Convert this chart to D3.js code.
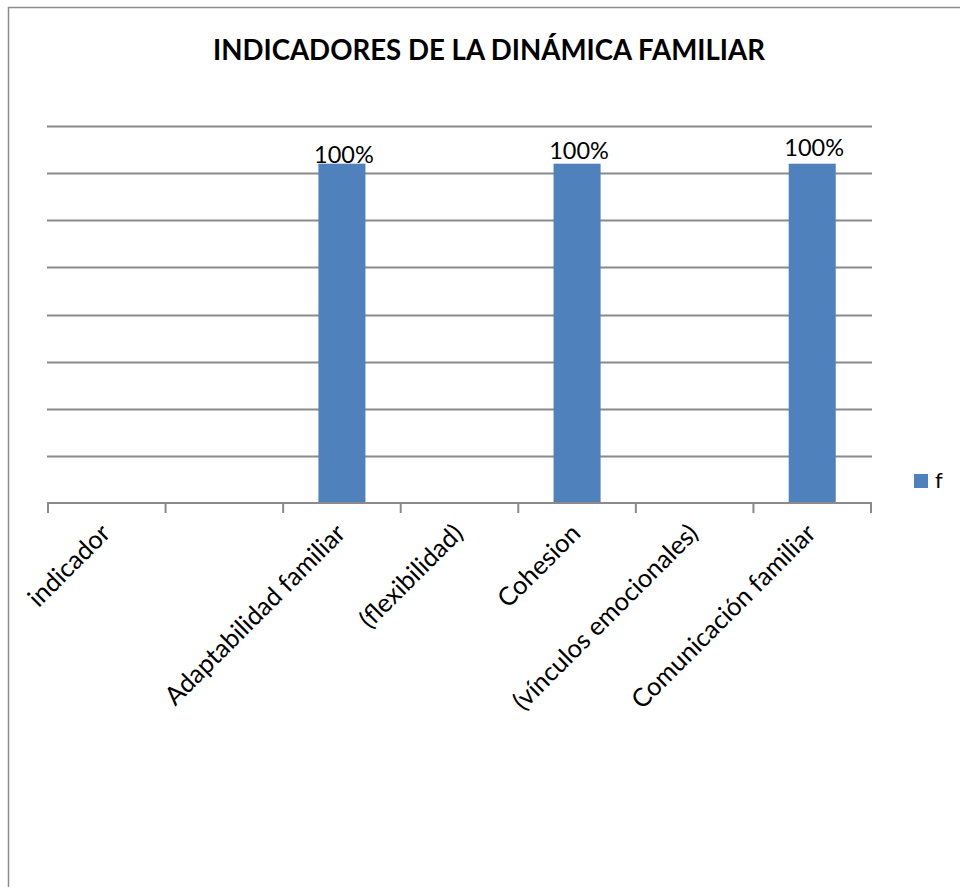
<!DOCTYPE html>
<html>
<head>
<meta charset="utf-8">
<script src="https://cdn.jsdelivr.net/npm/d3@7"></script>
<style>
  body { margin: 0; background: #fff; }
  svg { display: block; font-family: Lato, "Open Sans", sans-serif; }
</style>
</head>
<body>
<svg id="chart"></svg>
<script>
const categories = ["indicador", "", "Adaptabilidad familiar", "(flexibilidad)", "Cohesion", "(vínculos emocionales)", "Comunicación familiar"];
const values = [null, null, 36, null, 36, null, 36];
const valueLabels = [null, null, "100%", null, "100%", null, "100%"];
const yTicks = [0, 5, 10, 15, 20, 25, 30, 35, 40];
const seriesName = "f";

const W = 960, H = 887;
const svg = d3.select("#chart")
    .attr("width", W)
    .attr("height", H);

// chart frame (right and bottom edges run off the page)
svg.append("rect")
    .attr("x", 8.5).attr("y", 7.5)
    .attr("width", W + 20).attr("height", H + 20)
    .attr("fill", "none")
    .attr("stroke", "#8c8c8c")
    .attr("stroke-width", 1.5);

svg.append("text")
    .attr("x", 489).attr("y", 60)
    .attr("text-anchor", "middle")
    .attr("font-size", 29)
    .attr("font-weight", "bold")
    .attr("textLength", 552)
    .attr("lengthAdjust", "spacingAndGlyphs")
    .text("INDICADORES DE LA DINÁMICA FAMILIAR");

const x = d3.scaleBand()
    .domain(d3.range(categories.length))
    .range([48, 871]);

const y = d3.scaleLinear()
    .domain([0, 40])
    .range([503, 126]);

// gridlines
svg.append("g")
    .selectAll("line")
    .data(yTicks.slice(1))
    .join("line")
    .attr("x1", 47).attr("x2", 872)
    .attr("y1", d => Math.round(y(d)) + 0.5)
    .attr("y2", d => Math.round(y(d)) + 0.5)
    .attr("stroke", "#8a8a8a")
    .attr("stroke-width", 2);

// bars
const barW = x.bandwidth() * 0.4;
const shown = d3.range(categories.length).filter(i => values[i] != null);

svg.append("g")
    .selectAll("rect")
    .data(shown)
    .join("rect")
    .attr("x", i => x(i) + (x.bandwidth() - barW) / 2)
    .attr("y", i => y(values[i]))
    .attr("width", barW)
    .attr("height", i => y(0) - y(values[i]))
    .attr("fill", "#4f81bd");

// value labels, Excel nudged them a little each
svg.append("g")
    .selectAll("text")
    .data(shown)
    .join("text")
    .attr("x", i => x(i) + x.bandwidth() / 2 + 2)
    .attr("y", (i, k) => y(values[i]) - 1 - k * 3.5)
    .attr("text-anchor", "middle")
    .attr("font-size", 23.5)
    .text(i => valueLabels[i]);

// x axis
const axis = svg.append("g").attr("transform", `translate(0,${y(0)})`);
axis.append("line")
    .attr("x1", 47).attr("x2", 872)
    .attr("stroke", "#8a8a8a").attr("stroke-width", 2);
axis.selectAll("line.tick")
    .data(d3.range(categories.length + 1))
    .join("line")
    .attr("class", "tick")
    .attr("x1", i => i < categories.length ? x(i) : x.range()[1])
    .attr("x2", i => i < categories.length ? x(i) : x.range()[1])
    .attr("y1", 0).attr("y2", 10)
    .attr("stroke", "#8a8a8a").attr("stroke-width", 2);

svg.append("g")
    .selectAll("text")
    .data(d3.range(categories.length))
    .join("text")
    .attr("text-anchor", "end")
    .attr("font-size", 25.5)
    .attr("transform", i => `translate(${x(i) + x.bandwidth() / 2 + 5},${y(0) + 32}) rotate(-45)`)
    .text(i => categories[i]);

// legend
const legend = svg.append("g").attr("transform", "translate(914,474)");
legend.append("rect").attr("width", 14).attr("height", 14).attr("fill", "#4f81bd");
legend.append("text").attr("x", 21).attr("y", 14).attr("font-size", 22).text(seriesName);
</script>
</body>
</html>
